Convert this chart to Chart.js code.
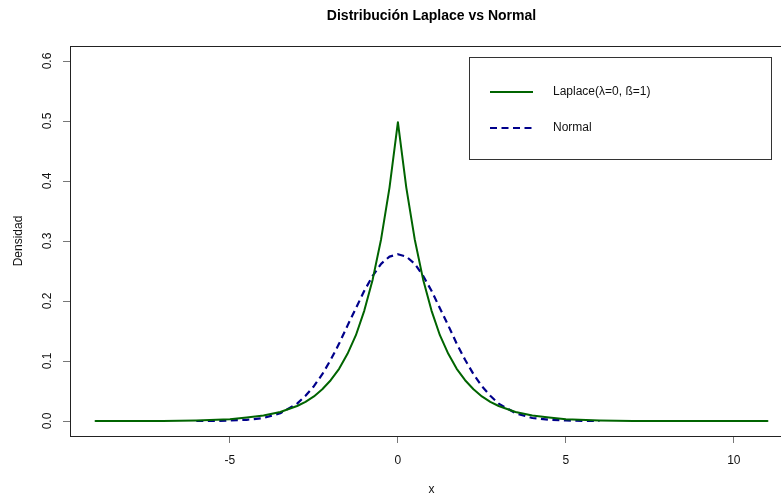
<!DOCTYPE html>
<html><head><meta charset="utf-8">
<script src="https://cdn.jsdelivr.net/npm/chart.js@4.4.1/dist/chart.umd.min.js"></script>
<style>
html,body{margin:0;padding:0;background:#fff;overflow:hidden;width:781px;height:498px}
#wrap{position:relative;width:863px;height:498px}
</style></head>
<body><div id="wrap"><canvas id="c" width="863" height="498"></canvas></div>
<script>
const chartTitle = 'Distribución Laplace vs Normal';
const xAxisLabel = 'x';
const yAxisLabel = 'Densidad';
const xTickValues = [-5, 0, 5, 10];
const yTickValues = [0, 0.1, 0.2, 0.3, 0.4, 0.5, 0.6];
const yTickLabels = ['0.0', '0.1', '0.2', '0.3', '0.4', '0.5', '0.6'];
const laplaceLabel = 'Laplace(λ=0, ß=1)';
const normalLabel = 'Normal';

const laplaceX = [-9, -8, -7, -6, -5, -4.5, -4, -3.5, -3, -2.75, -2.5, -2.25, -2, -1.75, -1.5, -1.25, -1, -0.75, -0.5, -0.25, 0,
                  0.25, 0.5, 0.75, 1, 1.25, 1.5, 1.75, 2, 2.25, 2.5, 2.75, 3, 3.5, 4, 4.5, 5, 6, 7, 8, 9, 10, 11];
const laplaceY = [0.000, 0.000, 0.000, 0.001, 0.003, 0.006, 0.009, 0.015, 0.025, 0.032, 0.041, 0.053, 0.068, 0.087, 0.112, 0.143, 0.184, 0.236, 0.303, 0.389, 0.498,
                  0.389, 0.303, 0.236, 0.184, 0.143, 0.112, 0.087, 0.068, 0.053, 0.041, 0.032, 0.025, 0.015, 0.009, 0.006, 0.003, 0.001, 0.000, 0.000, 0.000, 0.000, 0.000];

const normalX = [-6, -5.5, -5, -4.5, -4, -3.5, -3, -2.75, -2.5, -2.25, -2, -1.75, -1.5, -1.25, -1, -0.75, -0.5, -0.25, 0,
                 0.25, 0.5, 0.75, 1, 1.25, 1.5, 1.75, 2, 2.25, 2.5, 2.75, 3, 3.5, 4, 4.5, 5, 5.5, 6];
const normalY = [0.000, 0.000, 0.001, 0.002, 0.005, 0.013, 0.029, 0.042, 0.058, 0.078, 0.102, 0.129, 0.159, 0.188, 0.217, 0.242, 0.262, 0.274, 0.278,
                 0.274, 0.262, 0.242, 0.217, 0.188, 0.159, 0.129, 0.102, 0.078, 0.058, 0.042, 0.029, 0.013, 0.005, 0.002, 0.001, 0.000, 0.000];

const FONT = "'Liberation Sans', Arial, sans-serif";
Chart.defaults.font.family = FONT;
Chart.defaults.font.size = 12;
Chart.defaults.color = '#111';

const laplaceColor = '#006400';
const normalColor = '#00008B';

const decor = {
  id: 'decor',
  afterDraw(chart) {
    const {ctx, chartArea: a, scales} = chart;
    ctx.save();
    ctx.strokeStyle = '#222';
    ctx.lineWidth = 1;
    ctx.beginPath();
    ctx.moveTo(Math.round(a.left) + 0.5, Math.round(a.top) + 0.5);
    ctx.lineTo(Math.round(a.right) + 0.5, Math.round(a.top) + 0.5);
    ctx.lineTo(Math.round(a.right) + 0.5, Math.round(a.bottom) + 0.5);
    ctx.stroke();
    ctx.fillStyle = '#111';
    ctx.font = '12px ' + FONT;
    ctx.textAlign = 'center';
    ctx.textBaseline = 'middle';
    yTickValues.forEach((v, i) => {
      const y = scales.y.getPixelForValue(v);
      ctx.save();
      ctx.translate(48, y);
      ctx.rotate(-Math.PI / 2);
      ctx.fillText(yTickLabels[i], 0, 0);
      ctx.restore();
    });
    ctx.font = 'bold 14px ' + FONT;
    ctx.fillStyle = '#000';
    ctx.fillText(chartTitle, (a.left + a.right) / 2, 16);
    ctx.strokeStyle = '#333';
    ctx.lineWidth = 1;
    ctx.strokeRect(469.5, 57.5, 302, 102);
    const ds = chart.data.datasets;
    const rows = [92, 128];
    ds.forEach((d, i) => {
      ctx.beginPath();
      ctx.strokeStyle = d.borderColor;
      ctx.lineWidth = d.borderWidth;
      ctx.setLineDash(d.borderDash || []);
      ctx.moveTo(490, rows[i]);
      ctx.lineTo(533, rows[i]);
      ctx.stroke();
      ctx.setLineDash([]);
      ctx.font = '12px ' + FONT;
      ctx.fillStyle = '#111';
      ctx.textAlign = 'left';
      ctx.textBaseline = 'middle';
      ctx.fillText(d.label, 553, rows[i]);
    });
    ctx.restore();
  }
};

new Chart(document.getElementById('c'), {
  type: 'scatter',
  data: {
    datasets: [
      {
        label: laplaceLabel,
        data: laplaceX.map((x, i) => ({x, y: laplaceY[i]})),
        showLine: true, borderColor: laplaceColor, backgroundColor: laplaceColor,
        borderWidth: 2, borderJoinStyle: 'round', borderCapStyle: 'round',
        pointRadius: 0, tension: 0, fill: false
      },
      {
        label: normalLabel,
        data: normalX.map((x, i) => ({x, y: normalY[i]})),
        showLine: true, borderColor: normalColor, backgroundColor: normalColor,
        borderWidth: 2.2, borderDash: [7, 4.5], borderJoinStyle: 'round',
        pointRadius: 0, tension: 0, fill: false
      }
    ]
  },
  options: {
    responsive: false, animation: false, devicePixelRatio: 1,
    layout: {padding: {left: 0, right: 70, top: 46, bottom: 0}},
    plugins: {legend: {display: false}, title: {display: false}, tooltip: {enabled: false}},
    scales: {
      x: {
        type: 'linear', min: -9.76, max: 11.76,
        afterBuildTicks: s => { s.ticks = xTickValues.map(v => ({value: v})); },
        afterFit: s => { s.height = 62; },
        ticks: {color: '#111', padding: 10, maxRotation: 0, autoSkip: false, callback: v => String(v)},
        grid: {display: true, drawOnChartArea: false, drawTicks: true, tickLength: 7, color: '#777'},
        border: {display: true, color: '#222', width: 1},
        title: {display: true, text: xAxisLabel, color: '#111', font: {size: 12}, padding: {top: 0, bottom: 1}}
      },
      y: {
        type: 'linear', min: -0.025, max: 0.625,
        afterBuildTicks: s => { s.ticks = yTickValues.map(v => ({value: v})); },
        afterFit: s => { s.width = 70; },
        ticks: {display: false},
        grid: {display: true, drawOnChartArea: false, drawTicks: true, tickLength: 7, color: '#777'},
        border: {display: true, color: '#222', width: 1},
        title: {display: true, text: yAxisLabel, color: '#111', font: {size: 12}, padding: {top: 11, bottom: 0}}
      }
    }
  },
  plugins: [decor]
});
</script>
</body></html>
